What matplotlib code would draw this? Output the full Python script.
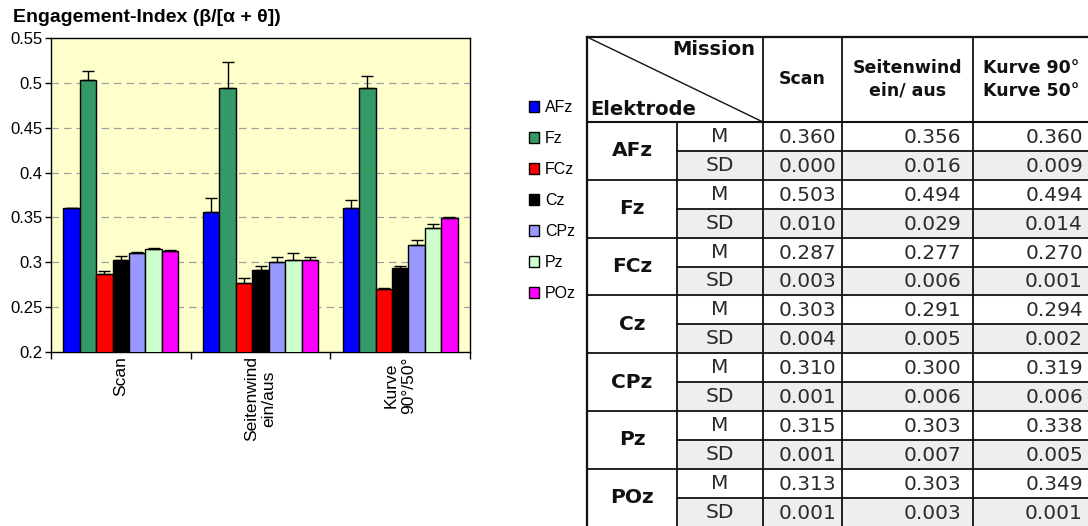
import numpy as np
import matplotlib.pyplot as plt
from matplotlib.patches import Rectangle

# data
missions = ['Scan', 'Seitenwind\nein/aus', 'Kurve\n90°/50°']
mission_heads = ['Scan', 'Seitenwind\nein/ aus', 'Kurve 90°\nKurve 50°']
electrodes = ['AFz', 'Fz', 'FCz', 'Cz', 'CPz', 'Pz', 'POz']
colors = ['#0000FF', '#339966', '#FF0000', '#000000', '#9999FF', '#CCFFCC', '#FF00FF']

# mean / SD per electrode, columns = Scan, Seitenwind, Kurve
M = {
    'AFz': [0.360, 0.356, 0.360],
    'Fz':  [0.503, 0.494, 0.494],
    'FCz': [0.287, 0.277, 0.270],
    'Cz':  [0.303, 0.291, 0.294],
    'CPz': [0.310, 0.300, 0.319],
    'Pz':  [0.315, 0.303, 0.338],
    'POz': [0.313, 0.303, 0.349],
}
SD = {
    'AFz': [0.000, 0.016, 0.009],
    'Fz':  [0.010, 0.029, 0.014],
    'FCz': [0.003, 0.006, 0.001],
    'Cz':  [0.004, 0.005, 0.002],
    'CPz': [0.001, 0.006, 0.006],
    'Pz':  [0.001, 0.007, 0.005],
    'POz': [0.001, 0.003, 0.001],
}

W, H = 1088, 526
fig = plt.figure(figsize=(W / 100, H / 100), dpi=100)
plt.rcParams['font.family'] = ['Liberation Sans', 'DejaVu Sans']

# ---- bar chart ----
ax = fig.add_axes([51 / W, 1 - 352 / H, 419 / W, 314 / H])
ax.set_facecolor('#FFFFCC')
n = len(electrodes)
bw = 0.823 / n
x = np.arange(len(missions))
for i, el in enumerate(electrodes):
    pos = x - 0.4115 + bw * (i + 0.5)
    ax.bar(pos, M[el], bw, color=colors[i], edgecolor='black', linewidth=1.0, zorder=3,
           label=el)
    ax.errorbar(pos, M[el], yerr=[np.zeros(3), SD[el]], fmt='none', ecolor='black',
                elinewidth=1.0, capsize=4.5, capthick=1.0, zorder=4)

ax.set_xlim(-0.5, 2.5)
ax.set_ylim(0.2, 0.55)
yt = np.arange(0.2, 0.551, 0.05)
ax.set_yticks(yt)
ax.set_yticklabels([f'{v:.2f}'.rstrip('0') for v in yt], fontsize=12)
for v in yt[1:-1]:
    ax.axhline(v, color='#A0A0A0', linestyle=(0, (6, 4)), linewidth=0.9, zorder=1)
ax.tick_params(axis='y', length=4, width=1, pad=2)
ax.set_xticks([-0.5, 0.5, 1.5, 2.5])
ax.set_xticklabels([])
ax.tick_params(axis='x', which='major', length=5, width=1)
ax.set_xticks(x, minor=True)
ax.set_xticklabels(missions, minor=True, rotation=90, fontsize=12.5, ha='center', va='top')
ax.tick_params(axis='x', which='minor', length=0, pad=3)
for s in ax.spines.values():
    s.set_linewidth(1.0)

fig.text(13 / W, 1 - 17 / H, 'Engagement-Index (β/[α + θ])', fontsize=14,
         fontweight='bold', va='center', ha='left')

fig.legend(*ax.get_legend_handles_labels(), loc='upper left',
           bbox_to_anchor=(521 / W, 1 - 92 / H), frameon=False, fontsize=11.5,
           handlelength=0.65, handleheight=0.65, handletextpad=0.35, labelspacing=1.0,
           borderpad=0)

# ---- table ----
tx = fig.add_axes([0, 0, 1, 1])
tx.set_xlim(0, W)
tx.set_ylim(H, 0)
tx.axis('off')

cols = [587, 677, 763, 842, 973, 1100]
top, hb, rh = 37, 122, 28.9
bottom = hb + rh * 2 * n
lc = '#111111'
tc = '#2A2A2A'

for r in range(2 * n):
    y0 = hb + r * rh
    if r % 2 == 1:
        tx.add_patch(Rectangle((cols[1], y0), cols[-1] - cols[1], rh, color='#EEEEEE', zorder=0))

# horizontal lines
tx.plot([cols[0], cols[-1]], [top, top], color=lc, lw=1.6)
tx.plot([cols[0], cols[-1]], [hb, hb], color=lc, lw=1.5)
for r in range(1, 2 * n + 1):
    y0 = hb + r * rh
    x0 = cols[0] if r % 2 == 0 else cols[1]
    tx.plot([x0, cols[-1]], [y0, y0], color=lc, lw=1.3)
# vertical lines
tx.plot([cols[0], cols[0]], [top, bottom], color=lc, lw=1.6)
tx.plot([cols[1], cols[1]], [hb, bottom], color=lc, lw=1.3)
for c in cols[2:-1]:
    tx.plot([c, c], [top, bottom], color=lc, lw=1.3)
tx.plot([cols[0], cols[2]], [top, hb], color=lc, lw=1.0)

bold = dict(family='DejaVu Sans', fontweight='bold', color='#111111')
tx.text(cols[2] - 8, top + 3, 'Mission', fontsize=14, ha='right', va='top', **bold)
tx.text(cols[0] + 3, hb - 3, 'Elektrode', fontsize=14, ha='left', va='bottom', **bold)
hx = [(cols[2] + cols[3]) / 2, (cols[3] + cols[4]) / 2, cols[4] + 10]
has = ['center', 'center', 'left']
for j, t in enumerate(mission_heads):
    tx.text(hx[j], (top + hb) / 2, t, fontsize=12.5, ha=has[j], va='center',
            multialignment=has[j], linespacing=1.35, **bold)

for i, el in enumerate(electrodes):
    y0 = hb + 2 * i * rh
    tx.text((cols[0] + cols[1]) / 2, y0 + rh, el, fontsize=14.5,
            ha='center', va='center', **bold)
    for k, (lab, vals) in enumerate([('M', M[el]), ('SD', SD[el])]):
        yc = y0 + (k + 0.5) * rh
        tx.text((cols[1] + cols[2]) / 2, yc, lab, fontsize=14.5, ha='center', va='center',
                family='DejaVu Sans', color=tc)
        xr = [cols[3] - 6, cols[4] - 12, 1083]
        for j, v in enumerate(vals):
            tx.text(xr[j], yc + 1, f'{v:.3f}', fontsize=14.5,
                    ha='right', va='center', family='DejaVu Sans', color=tc)

fig.savefig('out.png', dpi=100)
